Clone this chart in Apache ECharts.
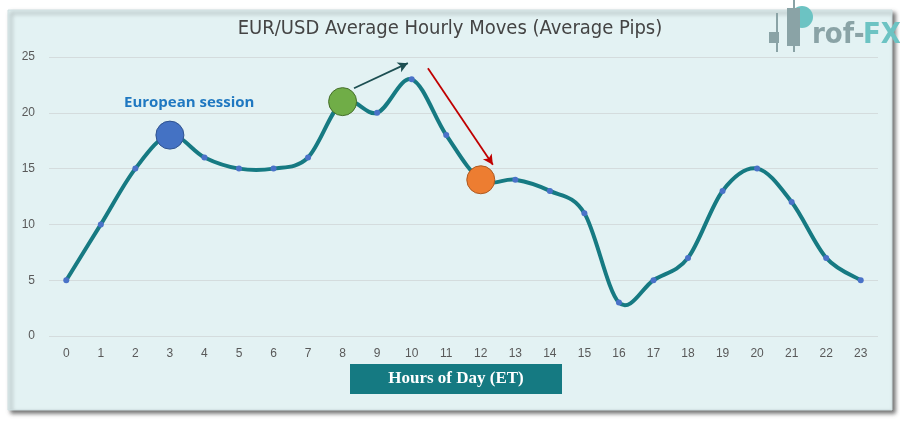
<!DOCTYPE html>
<html><head><meta charset="utf-8">
<script src="https://cdn.jsdelivr.net/npm/echarts@6/dist/echarts.min.js"></script>
<style>html,body{margin:0;padding:0;background:#fff}#c{width:900px;height:421px}</style>
</head><body><div id="c"></div>
<script>
const hours = ['0','1','2','3','4','5','6','7','8','9','10','11','12','13','14','15','16','17','18','19','20','21','22','23'];
const pips = [5,10,15,18,16,15,15,16,21,20,23,18,14,14,13,11,3,5,7,13,15,12,7,5];
const yTicks = [0,5,10,15,20,25];
const highlights = [
  {hour:3, value:18, color:'#4472c4', border:'#2f528f'},
  {hour:8, value:21, color:'#70ad47', border:'#466f2b'},
  {hour:12, value:14, color:'#ed7d31', border:'#ae5a21'}
];
const arrowUp = [[8.33, 22.2],[9.89, 24.45]];
const arrowDown = [[10.47, 24.0],[12.35, 15.35]];

function renderSegment(params, api){
  const i = params.dataIndex;
  if (i >= pips.length - 1) return null;
  const P = j => { const k = Math.max(0, Math.min(pips.length-1, j)); return api.coord([k, pips[k]]); };
  const p0 = P(i-1), p1 = P(i), p2 = P(i+1), p3 = P(i+2);
  const c1 = [p1[0] + (p2[0]-p0[0])/6, p1[1] + (p2[1]-p0[1])/6];
  const c2 = [p2[0] - (p3[0]-p1[0])/6, p2[1] - (p3[1]-p1[1])/6];
  return {type:'bezierCurve', shape:{x1:p1[0],y1:p1[1],x2:p2[0],y2:p2[1],cpx1:c1[0],cpy1:c1[1],cpx2:c2[0],cpy2:c2[1]},
    style:{stroke:'#167a82', lineWidth:4, fill:null, lineCap:'round'}};
}

const chart = echarts.init(document.getElementById('c'));
chart.setOption({
  animation:false,
  backgroundColor:'#ffffff',
  graphic:[
    {type:'rect', z:-10, shape:{x:8,y:10,width:884,height:400},
     style:{fill:'#e3f2f3', stroke:'#d0e0e2', lineWidth:1, shadowBlur:4, shadowOffsetX:3, shadowOffsetY:3, shadowColor:'rgba(0,0,0,0.55)'}},
    {type:'text', left:'center', top:19, style:{text:'EUR/USD Average Hourly Moves (Average Pips)', font:'20px "Liberation Sans Narrow", "DejaVu Sans Condensed", sans-serif', fill:'#444444'}},
    {type:'rect', shape:{x:350,y:364,width:212,height:30}, style:{fill:'#157a82'}},
    {type:'text', x:456, y:379, style:{text:'Hours of Day (ET)', font:'bold 17px "Liberation Serif", serif', fill:'#ffffff', align:'center', verticalAlign:'middle'}},
    {type:'text', x:124, y:103, style:{text:'European session', font:'bold 15px "Open Sans", sans-serif', fill:'#1f78c1', verticalAlign:'middle'}},
    // logo
    {type:'rect', shape:{x:776,y:13,width:2,height:39}, style:{fill:'#8aa3a6'}},
    {type:'rect', shape:{x:769,y:32,width:10,height:11}, style:{fill:'#8aa3a6'}},
    {type:'circle', shape:{cx:802,cy:17,r:11}, style:{fill:'#6cc3c3'}},
    {type:'rect', shape:{x:787,y:8,width:13,height:38}, style:{fill:'#8aa3a6'}},
    {type:'rect', shape:{x:793,y:0,width:2,height:52}, style:{fill:'#8aa3a6'}},
    {type:'text', x:812, y:35, style:{text:'rof-', font:'bold 29px "DejaVu Sans Condensed", sans-serif', fill:'#8aa3a6', verticalAlign:'middle'}},
    {type:'text', x:863, y:35, style:{text:'FX', font:'bold 29px "DejaVu Sans Condensed", sans-serif', fill:'#6cc3c3', verticalAlign:'middle'}}
  ],
  grid:{left:49, right:22, top:57, bottom:85},
  xAxis:[
    {type:'category', data:hours, boundaryGap:true,
     axisLine:{show:false}, axisTick:{show:false},
     axisLabel:{color:'#595959', fontSize:12, margin:12, fontFamily:'"Liberation Sans Narrow", sans-serif'}},
    {type:'value', min:-0.5, max:23.5, show:false}
  ],
  yAxis:{type:'value', min:0, max:25, interval:5,
    axisLine:{show:false}, axisTick:{show:false},
    splitLine:{lineStyle:{color:'#d4dcdd', width:1.2}},
    axisLabel:{color:'#595959', fontSize:12, margin:14, fontFamily:'"Liberation Sans Narrow", sans-serif'}},
  series:[
    {type:'custom', xAxisIndex:0, data:pips.map((v,i)=>[i,v]), renderItem:renderSegment, z:2, silent:true},
    {type:'scatter', xAxisIndex:0, data:pips.map((v,i)=>[i,v]), symbolSize:6, itemStyle:{color:'#4a72c8', opacity:1}, z:3},
    {type:'line', xAxisIndex:1, data:[], z:4,
     markLine:{silent:true, symbol:['none','arrow'], symbolSize:[8,10], label:{show:false},
       data:[
         [{coord:arrowUp[0], lineStyle:{color:'#1d4f52', width:1.8, type:'solid'}},{coord:arrowUp[1]}],
         [{coord:arrowDown[0], lineStyle:{color:'#c00000', width:1.8, type:'solid'}},{coord:arrowDown[1]}]
       ]}
    },
    {type:'scatter', xAxisIndex:0, z:5, symbolSize:28,
     data:highlights.map(h=>({value:[h.hour,h.value], itemStyle:{color:h.color, borderColor:h.border, borderWidth:1, opacity:1}}))}
  ]
});
</script></body></html>
